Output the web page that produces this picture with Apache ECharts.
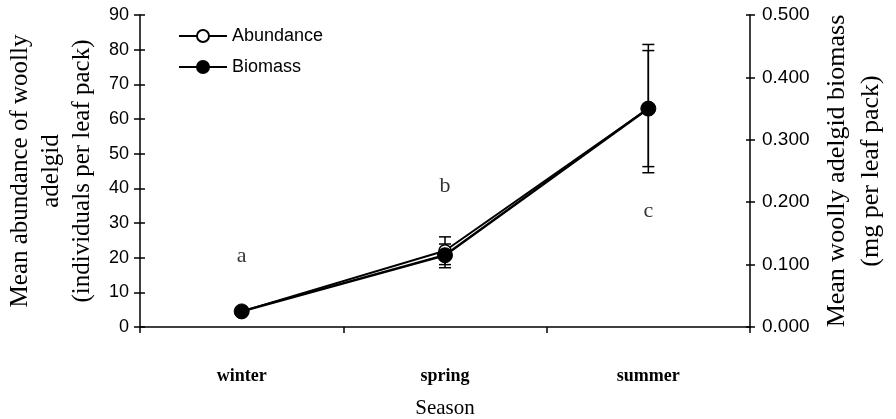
<!DOCTYPE html>
<html>
<head>
<meta charset="utf-8">
<script src="https://cdn.jsdelivr.net/npm/echarts@6/dist/echarts.min.js"></script>
<style>html,body{margin:0;padding:0;background:#fff;}#c{width:896px;height:419px;}</style>
</head>
<body>
<div id="c"></div>
<script>
const seasons = ['winter', 'spring', 'summer'];
const abundance = [4.5, 22, 63];
const abundanceLow = [3.5, 18, 44.5];
const abundanceHigh = [5.5, 26, 81.5];
const biomass = [0.025, 0.115, 0.35];
const biomassLow = [0.02, 0.095, 0.257];
const biomassHigh = [0.03, 0.133, 0.443];
const letters = ['a', 'b', 'c'];
const letterPos = [20.5, 40.7, 33.5];
const leftTicks = [0, 90, 10];
const rightTicks = [0, 0.5, 0.1];

const serif = '"Liberation Serif", "Times New Roman", serif';
const sans = '"Liberation Sans", Arial, sans-serif';

function errSeries(low, high, axisIdx, capW) {
  return {
    type: 'custom',
    yAxisIndex: axisIdx,
    z: 3,
    silent: true,
    data: seasons.map((s, i) => [i, low[i], high[i]]),
    renderItem: function (params, api) {
      const x = api.value(0);
      const lo = api.coord([x, api.value(1)]);
      const hi = api.coord([x, api.value(2)]);
      const st = { stroke: '#000', lineWidth: 1.5 };
      return {
        type: 'group',
        children: [
          { type: 'line', shape: { x1: lo[0], y1: lo[1], x2: hi[0], y2: hi[1] }, style: st },
          { type: 'line', shape: { x1: lo[0] - capW, y1: lo[1], x2: lo[0] + capW, y2: lo[1] }, style: st },
          { type: 'line', shape: { x1: hi[0] - capW, y1: hi[1], x2: hi[0] + capW, y2: hi[1] }, style: st }
        ]
      };
    }
  };
}

const chart = echarts.init(document.getElementById('c'));
chart.setOption({
  animation: false,
  backgroundColor: '#fff',
  grid: { left: 140, right: 146, top: 15, bottom: 92, outerBoundsMode: 'none', containLabel: false },
  legend: {
    left: 178, top: 27, padding: 0, orient: 'vertical', itemGap: 13, itemWidth: 48, itemHeight: 15,
    textStyle: { fontFamily: sans, fontSize: 18, color: '#000' },
    data: ['Abundance', 'Biomass']
  },
  xAxis: {
    type: 'category', data: seasons, boundaryGap: true,
    axisLine: { lineStyle: { color: '#000', width: 1.5 } },
    axisTick: { show: true, length: 6, lineStyle: { color: '#000', width: 1.5 } },
    axisLabel: { fontFamily: serif, fontSize: 18, fontWeight: 'bold', color: '#000', margin: 40 },
    name: 'Season', nameLocation: 'middle', nameGap: 71,
    nameTextStyle: { fontFamily: serif, fontSize: 21, color: '#000' }
  },
  yAxis: [
    {
      type: 'value', position: 'left', min: leftTicks[0], max: leftTicks[1], interval: leftTicks[2],
      splitLine: { show: false },
      axisLine: { show: true, lineStyle: { color: '#000', width: 1.5 } },
      axisTick: { show: true, length: 6, lineStyle: { color: '#000', width: 1.5 } },
      axisLabel: { fontFamily: sans, fontSize: 18, color: '#000', margin: 11 },
      name: 'Mean abundance of woolly\nadelgid\n(individuals per leaf pack)',
      nameLocation: 'middle', nameGap: 40, nameRotate: 90,
      nameTextStyle: { fontFamily: serif, fontSize: 25, color: '#000', lineHeight: 31 }
    },
    {
      type: 'value', position: 'right', min: rightTicks[0], max: rightTicks[1], interval: rightTicks[2],
      splitLine: { show: false },
      axisLine: { show: true, lineStyle: { color: '#000', width: 1.5 } },
      axisTick: { show: true, length: 5, lineStyle: { color: '#000', width: 1.5 } },
      axisLabel: { fontFamily: sans, fontSize: 19, color: '#000', margin: 12, formatter: v => v.toFixed(3) },
      name: 'Mean woolly adelgid biomass\n(mg per leaf pack)',
      nameLocation: 'middle', nameGap: 69, nameRotate: 90,
      nameTextStyle: { fontFamily: serif, fontSize: 26, color: '#000', lineHeight: 34 }
    },
    {
      type: 'value', position: 'left', min: leftTicks[0], max: leftTicks[1], interval: leftTicks[2],
      splitLine: { show: false }, axisLine: { show: false },
      axisTick: { show: true, inside: true, length: 5, lineStyle: { color: '#000', width: 1.5 } },
      axisLabel: { show: false }
    },
    {
      type: 'value', position: 'right', min: rightTicks[0], max: rightTicks[1], interval: rightTicks[2],
      splitLine: { show: false }, axisLine: { show: false },
      axisTick: { show: true, inside: true, length: 4, lineStyle: { color: '#000', width: 1.5 } },
      axisLabel: { show: false }
    }
  ],
  series: [
    errSeries(abundanceLow, abundanceHigh, 0, 6),
    errSeries(biomassLow, biomassHigh, 1, 6),
    {
      name: 'Abundance', type: 'line', yAxisIndex: 0, data: abundance, z: 4,
      symbol: 'circle', symbolSize: 12,
      lineStyle: { color: '#000', width: 2 },
      itemStyle: { color: '#fff', borderColor: '#000', borderWidth: 1.5 }
    },
    {
      name: 'Biomass', type: 'line', yAxisIndex: 1, data: biomass, z: 5,
      symbol: 'circle', symbolSize: 15,
      lineStyle: { color: '#000', width: 2.5 },
      itemStyle: { color: '#000', borderColor: '#000', borderWidth: 1 }
    },
    {
      type: 'scatter', yAxisIndex: 0, symbolSize: 0, silent: true,
      data: letterPos.map((v, i) => ({ value: [i, v], name: letters[i] })),
      label: {
        show: true, position: 'inside', formatter: p => p.name,
        fontFamily: serif, fontSize: 22, color: '#000'
      }
    }
  ]
});
</script>
</body>
</html>
